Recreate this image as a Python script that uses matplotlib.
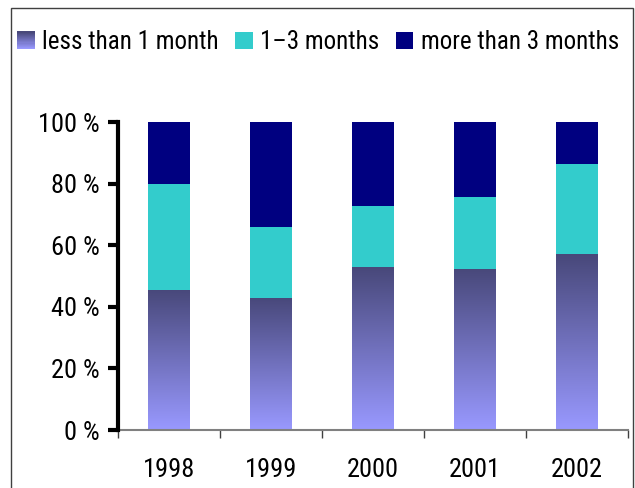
import numpy as np
import matplotlib
matplotlib.use("Agg")
import matplotlib.pyplot as plt
from matplotlib.patches import Rectangle
from matplotlib.legend_handler import HandlerBase
from matplotlib.colors import LinearSegmentedColormap

years = ["1998", "1999", "2000", "2001", "2002"]
less_1m = [45.5, 42.9, 52.9, 52.3, 57.1]
m1_3 = [34.4, 23.0, 19.8, 23.3, 29.3]
more_3m = [20.1, 34.1, 27.3, 24.4, 13.6]
yticks = [0, 20, 40, 60, 80, 100]

plt.rcParams["font.family"] = ["Roboto Condensed", "DejaVu Sans"]

DARK = "#48487a"
LIGHT = "#9999ff"
CYAN = "#33cccc"
NAVY = "#000080"
grad = LinearSegmentedColormap.from_list("g", [LIGHT, DARK])


class GradientHandler(HandlerBase):
    def create_artists(self, legend, orig, xd, yd, w, h, fs, trans):
        n = 16
        arts = []
        for i in range(n):
            r = Rectangle((xd, yd + h * i / n), w, h / n + 0.3,
                          facecolor=grad(i / (n - 1)), edgecolor="none",
                          transform=trans)
            arts.append(r)
        return arts


fig = plt.figure(figsize=(6.35, 4.88), dpi=100)
ax = fig.add_axes([118 / 635, 1 - 430 / 488, 510 / 635, 308 / 488])

x = np.arange(len(years))
w = 0.41
bottoms2 = np.array(less_1m)
bottoms3 = bottoms2 + np.array(m1_3)

# gradient bars for "less than 1 month"
gimg = np.linspace(1, 0, 256).reshape(-1, 1)
for xi, v in zip(x, less_1m):
    ax.imshow(gimg, cmap=grad, vmin=0, vmax=1, aspect="auto",
              extent=(xi - w / 2, xi + w / 2, 0, v), zorder=2)
ax.bar(x, m1_3, w, bottom=bottoms2, color=CYAN, zorder=2)
ax.bar(x, more_3m, w, bottom=bottoms3, color=NAVY, zorder=2)

ax.set_xlim(-0.5, len(years) - 0.5)
ax.set_ylim(0, 100)
ax.set_aspect("auto")

ax.set_xticks(x)
ax.set_xticklabels(years, fontsize=19)
ax.tick_params(axis="x", which="major", length=0, pad=20)
ax.set_xticks(np.arange(-0.5, len(years)), minor=True)
ax.tick_params(axis="x", which="minor", length=6, width=1, color="#404040")

ax.set_yticks(yticks)
ax.set_yticklabels([f"{t} %" for t in yticks], fontsize=19)
ax.tick_params(axis="y", length=7, width=3, color="black", pad=6)

for s in ["top", "right"]:
    ax.spines[s].set_visible(False)
ax.spines["left"].set_linewidth(3)
ax.spines["left"].set_zorder(3)
ax.spines["bottom"].set_color("#808080")
ax.spines["bottom"].set_linewidth(1.5)

h1 = Rectangle((0, 0), 1, 1)
h2 = Rectangle((0, 0), 1, 1, facecolor=CYAN)
h3 = Rectangle((0, 0), 1, 1, facecolor=NAVY)
fig.legend([h1, h2, h3], ["less than 1 month", "1\u20133 months", "more than 3 months"],
           handler_map={h1: GradientHandler()},
           loc="center", bbox_to_anchor=(0.501, 1 - 42 / 488), ncol=3,
           frameon=False, fontsize=18, handlelength=0.7, handleheight=0.7,
           handletextpad=0.3, columnspacing=0.65, borderpad=0, borderaxespad=0)

fig.patches.append(Rectangle((11 / 635, -0.1), 622 / 635, 1.1 - 8.5 / 488,
                             transform=fig.transFigure, fill=False,
                             edgecolor="#404040", linewidth=1))

fig.savefig("out.png", dpi=100)
